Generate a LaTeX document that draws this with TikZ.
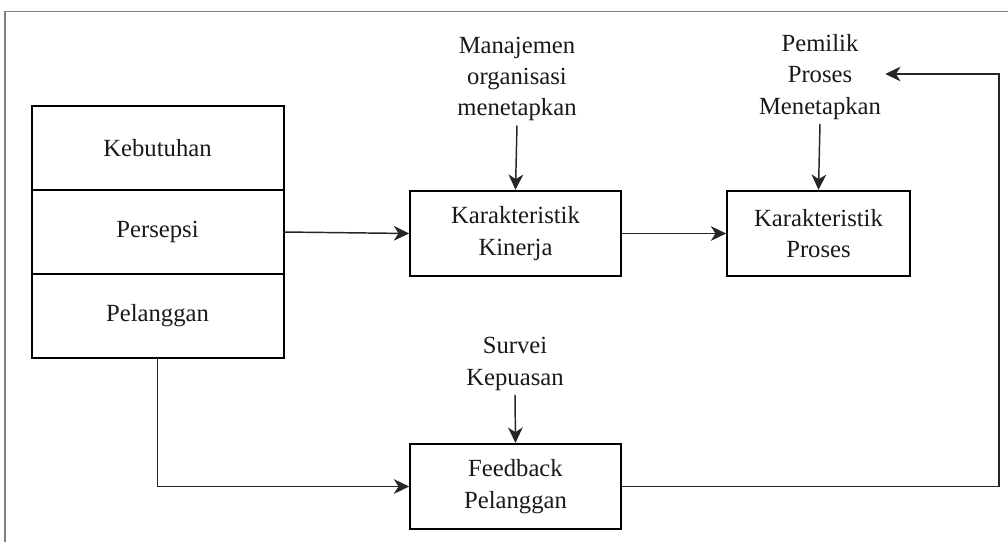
\documentclass[tikz,border=0pt]{standalone}
\usepackage{fontspec}
\setmainfont{Liberation Serif}
\usepackage{tikz}
\usetikzlibrary{arrows.meta,positioning,calc}

\begin{document}
\begin{tikzpicture}[x=0.75pt, y=-0.75pt, node distance=0pt]
\tikzset{
  block/.style={rectangle, draw=black, line width=1.5pt, align=center,
    font=\fontsize{18.5}{23.5}\selectfont, text=black!90, inner sep=2pt},
  cell/.style={block, outer sep=0pt, minimum width=189pt, minimum height=63pt},
  wide/.style={block, minimum width=158pt, minimum height=64pt},
  narrow/.style={block, minimum width=137pt, minimum height=64pt},
  note/.style={align=center, font=\fontsize{18.5}{23.5}\selectfont, text=black!90, inner sep=3pt},
  flow/.style={-{Stealth[length=11.5pt,width=11pt,inset=3.5pt]}, line width=1.1pt, draw=black!85},
  frame/.style={draw=black!50, line width=1.2pt}
}
\useasboundingbox (0,0) rectangle (1008,542);

% outer frame (cut by the page)
\draw[frame] (1012,11.5) -- (5,11.5) -- (5,546);

% customer stack
\node[cell] (need) at (157.5,148) {Kebutuhan};
\node[cell, below=of need] (perc) {Persepsi};
\node[cell, below=of perc] (cust) {Pelanggan};

% main boxes
\node[wide] (perf) at (515.5,233.5) {Karakteristik\\Kinerja};
\node[narrow] (proc) at (818.5,233.5) {Karakteristik\\Proses};
\node[wide] (fb) at (515.5,486.5) {Feedback\\Pelanggan};

% inputs from above
\node[note] (mgmt) at (517,79) {Manajemen\\organisasi\\menetapkan};
\node[note] (owner) at (820,77) {Pemilik\\Proses\\Menetapkan};
\node[note] (survey) at (515,364) {Survei\\Kepuasan};
\coordinate (turn) at (999,74);

\draw[flow] (perc.east) -- (perf.west);
\draw[flow] (perf) -- (proc);
\draw[flow] (mgmt.south) -- (perf.north);
\draw[flow] (owner.south) -- (proc.north);
\draw[flow] (survey.south) -- (fb.north);
\draw[flow] (cust.south) |- (fb.west);
\draw[flow] (fb.east) -| (turn) -- (turn -| owner.east);
\end{tikzpicture}
\end{document}
